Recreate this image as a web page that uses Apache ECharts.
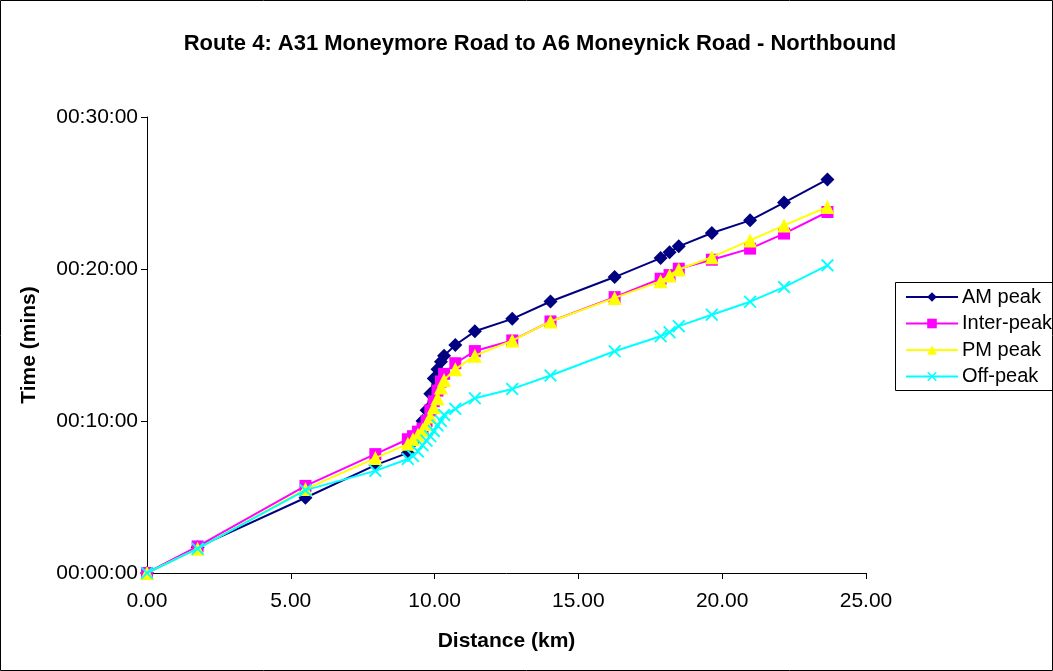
<!DOCTYPE html>
<html>
<head>
<meta charset="utf-8">
<script src="https://cdn.jsdelivr.net/npm/echarts@6/dist/echarts.min.js"></script>
<style>
html,body{margin:0;padding:0;background:#fff;}
#c{width:1053px;height:671px;}
</style>
</head>
<body>
<div id="c"></div>
<script>
var titleText = 'Route 4: A31 Moneymore Road to A6 Moneynick Road - Northbound';
var seriesNames = ['AM peak', 'Inter-peak', 'PM peak', 'Off-peak'];
var distances = [0, 1.76, 5.51, 7.94, 9.07, 9.25, 9.42, 9.58, 9.72, 9.85, 9.97, 10.10, 10.22, 10.33, 10.72, 11.40, 12.70, 14.03, 16.26, 17.86, 18.17, 18.49, 19.64, 20.97, 22.15, 23.66];
var amPeak    = [0, 1.70, 4.95, 7.10, 7.90, 8.60, 9.30, 10.00, 10.70, 11.80, 12.80, 13.40, 13.90, 14.30, 15.00, 15.90, 16.72, 17.86, 19.47, 20.72, 21.11, 21.49, 22.37, 23.20, 24.37, 25.89];
var interPeak = [0, 1.75, 5.73, 7.82, 8.80, 9.00, 9.30, 9.50, 10.00, 10.70, 11.30, 12.00, 12.60, 13.10, 13.80, 14.60, 15.30, 16.55, 18.15, 19.36, 19.60, 20.02, 20.61, 21.34, 22.33, 23.75];
var pmPeak    = [0, 1.60, 5.52, 7.56, 8.50, 8.80, 9.10, 9.40, 9.80, 10.30, 10.90, 11.50, 12.20, 12.70, 13.40, 14.30, 15.29, 16.55, 18.10, 19.20, 19.58, 19.97, 20.78, 21.88, 22.87, 24.08];
var offPeak   = [0, 1.60, 5.45, 6.72, 7.50, 7.70, 8.00, 8.40, 8.70, 9.00, 9.35, 9.70, 10.00, 10.40, 10.80, 11.50, 12.11, 12.99, 14.59, 15.58, 15.84, 16.24, 16.99, 17.85, 18.81, 20.24];
var xTicks = [0, 5, 10, 15, 20, 25];
var yTicks = [0, 10, 20, 30];

function pairs(ys){ return distances.map(function(d,i){ return [d, ys[i]]; }); }
function pad(n){ n = Math.round(n); return (n < 10 ? '0' : '') + n; }

var xMark = 'path://M0,1L1,0L5,4L9,0L10,1L6,5L10,9L9,10L5,6L1,10L0,9L4,5Z';
var colors = ['#000080', '#FF00FF', '#FFFF00', '#00FFFF'];
var symbols = ['diamond', 'rect', 'triangle', xMark];
var sizes = [14, 12, 14, 13];
var allData = [amPeak, interPeak, pmPeak, offPeak];

var chart = echarts.init(document.getElementById('c'), null, {renderer:'canvas'});
var font = 'Liberation Sans, Arial, sans-serif';
chart.setOption({
  animation: false,
  backgroundColor: '#fff',
  textStyle: {fontFamily: font},
  title: {
    text: titleText,
    left: 535, top: 28, textAlign: 'center',
    textStyle: {fontSize: 22, fontWeight: 'bold', color: '#000', fontFamily: font}
  },
  graphic: [{
    type: 'rect', shape: {x: 0.5, y: 0.5, width: 1052, height: 670},
    style: {fill: 'none', stroke: '#000', lineWidth: 1}, silent: true
  }, {
    type: 'rect', shape: {x: 895.5, y: 282.5, width: 200, height: 108},
    style: {fill: 'none', stroke: '#000', lineWidth: 1}, silent: true, z: 100
  }],
  legend: {
    left: 895, top: 282, orient: 'vertical',
    data: seriesNames,
    itemWidth: 52, itemHeight: 12, itemGap: 6.5,
    borderWidth: 0,
    padding: [5, 5, 5, 10],
    textStyle: {fontSize: 20, color: '#000', fontFamily: font, padding: [0,0,0,-1]}
  },
  grid: {left: 147, right: 187, top: 117, bottom: 98, containLabel: false},
  xAxis: {
    type: 'value', min: 0, max: 25, interval: 5,
    name: 'Distance (km)', nameLocation: 'middle', nameGap: 58,
    nameTextStyle: {fontSize: 21, fontWeight: 'bold', color: '#000', fontFamily: font},
    axisLine: {lineStyle: {color: '#000', width: 1}},
    axisTick: {show: true, inside: false, length: 6, lineStyle: {color: '#000'}},
    axisLabel: {fontSize: 21, color: '#000', margin: 18, formatter: function(v){ return v.toFixed(2); }},
    splitLine: {show: false}
  },
  yAxis: {
    type: 'value', min: 0, max: 30, interval: 10,
    name: 'Time (mins)', nameLocation: 'middle', nameGap: 107, nameRotate: 90,
    nameTextStyle: {fontSize: 21, fontWeight: 'bold', color: '#000', fontFamily: font},
    axisLine: {show: true, lineStyle: {color: '#000', width: 1}},
    axisTick: {show: true, inside: false, length: 6, lineStyle: {color: '#000'}},
    axisLabel: {fontSize: 21, color: '#000', margin: 9, formatter: function(v){ return '00:' + pad(v) + ':00'; }},
    splitLine: {show: false}
  },
  series: seriesNames.map(function(name, i){
    return {
      name: name, type: 'line', data: pairs(allData[i]),
      symbol: symbols[i], symbolSize: sizes[i], showSymbol: true,
      lineStyle: {color: colors[i], width: 2},
      itemStyle: {color: colors[i], borderWidth: 0},
      z: 2 + i
    };
  })
});
</script>
</body>
</html>
